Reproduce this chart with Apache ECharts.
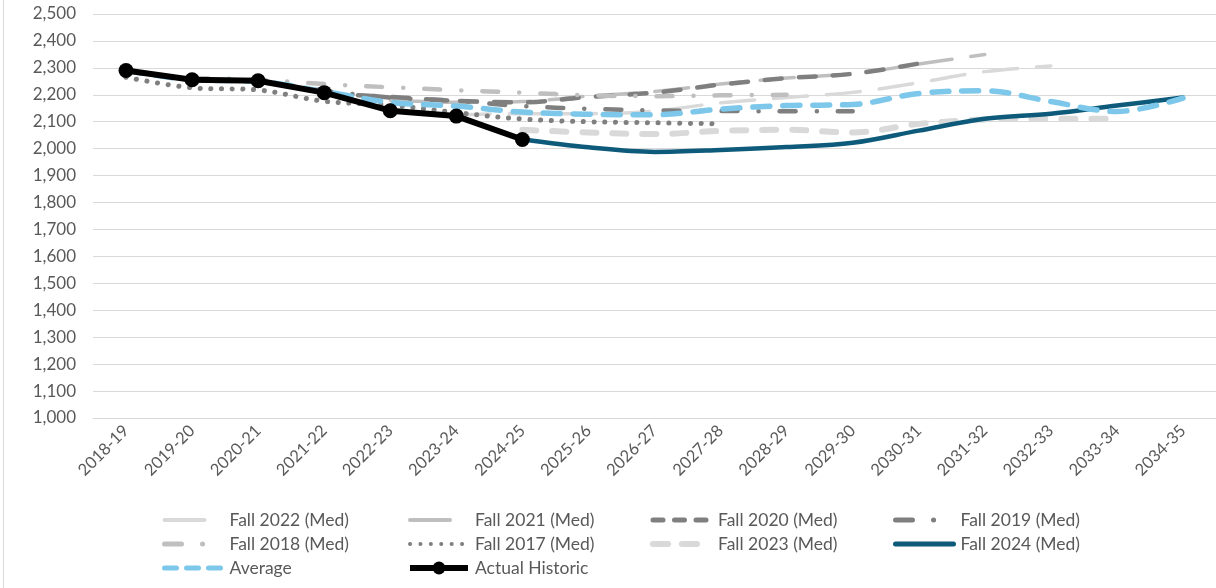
<!DOCTYPE html>
<html><head><meta charset="utf-8">
<script src="https://cdn.jsdelivr.net/npm/echarts@6/dist/echarts.min.js"></script>
<style>html,body{margin:0;padding:0;background:#fff}#c{width:1216px;height:588px}</style>
</head><body><div id="c"></div>
<script>
const categories = ['2018-19','2019-20','2020-21','2021-22','2022-23','2023-24','2024-25','2025-26','2026-27','2027-28','2028-29','2029-30','2030-31','2031-32','2032-33','2033-34','2034-35'];
const fall2022 = [null,null,null,null,null,2125,2130,2130,2140,2170,2190,2209,2245,2286,2307,null,null];
const fall2021 = [null,null,null,null,2180,2172,2175,2195,2212,2240,2262,2278,2314,2350,null,null,null];
const fall2020 = [null,null,null,2205,2192,2178,2172,2192,2208,2238,2262,2278,2316,null,null,null,null];
const fall2019 = [null,null,2250,2215,2190,2177,2158,2148,2142,2140,2139,2139,null,null,null,null,null];
const fall2018 = [null,2262,2256,2240,2228,2217,2208,2198,2195,2198,2200,null,null,null,null,null,null];
const fall2017 = [2265,2226,2218,2176,2162,2134,2110,2100,2096,2092,null,null,null,null,null,null,null];
const fall2023 = [null,null,null,null,null,null,2070,2060,2054,2066,2070,2060,2092,2108,2111,2111,null];
const fall2024 = [null,null,null,null,null,null,2035,2005,1988,1995,2006,2022,2067,2111,2130,2160,2190];
const average  = [2290,2256,2250,2212,2172,2158,2136,2128,2126,2147,2160,2164,2205,2215,2175,2138,2188];
const actual   = [2290,2256,2252,2208,2141,2121,2034,null,null,null,null,null,null,null,null,null,null];
const yTicks = {min:1000, max:2500, interval:100};

const FONT = 'Lato';
const TXT = '#595959';
const C = {
  'Fall 2022 (Med)': {color:'#D9D9D9', w:3.5, dash:[34,19], lw:4, ldash:[40,40]},
  'Fall 2021 (Med)': {color:'#BFBFBF', w:3.5, dash:[34,19], lw:4, ldash:[40,40]},
  'Fall 2020 (Med)': {color:'#7F7F7F', w:4.5, dash:[17,17], lw:5, ldash:[10,11.5]},
  'Fall 2019 (Med)': {color:'#7F7F7F', w:4.5, dash:[16,21,0.1,21], lw:5, ldash:[17,21,0.1,40]},
  'Fall 2018 (Med)': {color:'#BFBFBF', w:4.5, dash:[16,21,0.1,21], lw:5, ldash:[17,21,0.1,40]},
  'Fall 2017 (Med)': {color:'#7F7F7F', w:5, dash:[0.1,10.6], lw:4, ldash:[0.1,10.3]},
  'Fall 2023 (Med)': {color:'#D9D9D9', w:6, dash:[14,16], lw:6, ldash:[15,14]},
  'Fall 2024 (Med)': {color:'#0E5A7A', w:4.5, dash:'solid', lw:5, ldash:'solid'},
  'Average':         {color:'#7DC8EA', w:5.5, dash:[17,13], lw:5, ldash:[12,10]}
};
function proj(name, data) {
  const c = C[name];
  return {
    name, type:'line', data, symbol:'none', smooth:0.35, connectNulls:false,
    lineStyle:{color:c.color, width:c.w, type:c.dash, cap:'round', join:'round'},
    itemStyle:{color:c.color}, emphasis:{disabled:true}
  };
}
const series = [
  proj('Fall 2022 (Med)', fall2022),
  proj('Fall 2021 (Med)', fall2021),
  proj('Fall 2020 (Med)', fall2020),
  proj('Fall 2019 (Med)', fall2019),
  proj('Fall 2018 (Med)', fall2018),
  proj('Fall 2017 (Med)', fall2017),
  proj('Fall 2023 (Med)', fall2023),
  proj('Fall 2024 (Med)', fall2024),
  proj('Average', average),
  {name:'Actual Historic', type:'line', data:actual, symbol:'circle', symbolSize:15,
   smooth:false, lineStyle:{color:'#000', width:6}, itemStyle:{color:'#000'}, emphasis:{disabled:true}}
];
function leg(names, left) {
  return {
    data: names.map(n => n === 'Actual Historic'
      ? {name:n, lineStyle:{width:6, color:'#000'}, itemStyle:{color:'#000'}}
      : {name:n, itemStyle:{opacity:0},
         lineStyle:{color:C[n].color, width:C[n].lw, type:C[n].ldash, cap:'round'}}),
    orient:'vertical', left, top:511, padding:0, itemWidth:58, itemGap:6, itemHeight:16,
    textStyle:{color:TXT, fontFamily:FONT, fontSize:17.5, lineHeight:16, padding:[0,0,0,2]},
    selectedMode:false
  };
}
const chart = echarts.init(document.getElementById('c'), null, {renderer:'canvas'});
chart.setOption({
  animation:false,
  backgroundColor:'#fff',
  grid:{left:93, top:14, width:1129.5, height:404, containLabel:false},
  xAxis:{type:'category', data:categories, boundaryGap:true,
    axisLine:{show:true, lineStyle:{color:'#D9D9D9', width:1}}, axisTick:{show:false},
    axisLabel:{rotate:45, color:TXT, fontFamily:FONT, fontSize:16.5, margin:10, interval:0}},
  yAxis:{type:'value', min:yTicks.min, max:yTicks.max, interval:yTicks.interval,
    axisLine:{show:false}, axisTick:{show:false},
    splitLine:{lineStyle:{color:'#D9D9D9', width:1}},
    axisLabel:{color:TXT, fontFamily:FONT, fontSize:17, margin:17,
      formatter:v=>v.toLocaleString('en-US')}},
  legend:[
    leg(['Fall 2022 (Med)','Fall 2018 (Med)','Average'], 162),
    leg(['Fall 2021 (Med)','Fall 2017 (Med)','Actual Historic'], 407),
    leg(['Fall 2020 (Med)','Fall 2023 (Med)'], 650),
    leg(['Fall 2019 (Med)','Fall 2024 (Med)'], 893)
  ],
  graphic:[{type:'line', shape:{x1:3.5,y1:0,x2:3.5,y2:588}, style:{stroke:'#D9D9D9', lineWidth:1}}],
  series
});
</script></body></html>
